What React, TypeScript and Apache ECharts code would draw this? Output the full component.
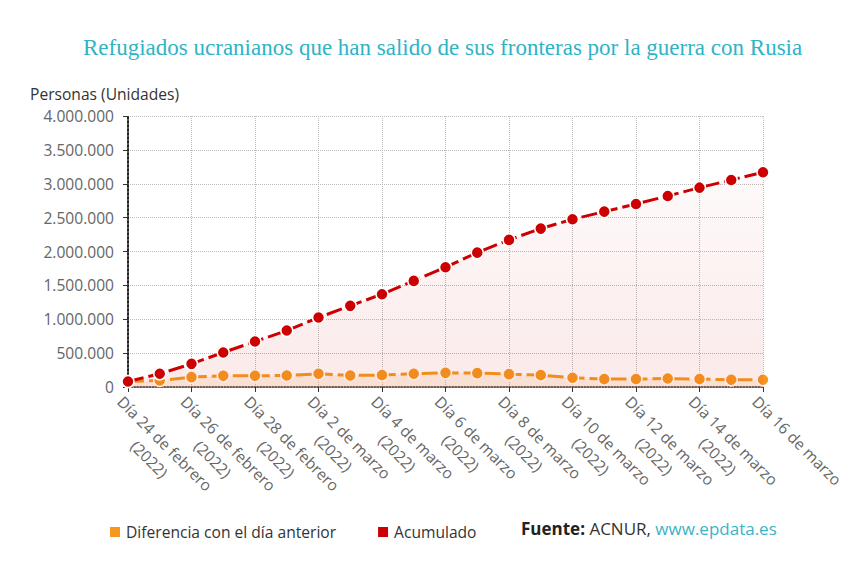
import React, { useEffect, useRef } from "react";
import * as echarts from "echarts";

const categories = [
  "Día 24 de febrero\n(2022)", "Día 25 de febrero\n(2022)", "Día 26 de febrero\n(2022)",
  "Día 27 de febrero\n(2022)", "Día 28 de febrero\n(2022)", "Día 1 de marzo\n(2022)",
  "Día 2 de marzo\n(2022)", "Día 3 de marzo\n(2022)", "Día 4 de marzo\n(2022)",
  "Día 5 de marzo\n(2022)", "Día 6 de marzo\n(2022)", "Día 7 de marzo\n(2022)",
  "Día 8 de marzo\n(2022)", "Día 9 de marzo\n(2022)", "Día 10 de marzo\n(2022)",
  "Día 11 de marzo\n(2022)", "Día 12 de marzo\n(2022)", "Día 13 de marzo\n(2022)",
  "Día 14 de marzo\n(2022)", "Día 15 de marzo\n(2022)", "Día 16 de marzo",
];

const diferencia = [
  81000, 96000, 146000, 165000, 165000, 170000, 195000, 170000, 176000, 195000, 209000,
  205000, 190000, 176000, 136000, 117000, 117000, 125000, 117000, 106000, 106000,
];

const acumulado = [
  81000, 195000, 342000, 509000, 671000, 833000, 1025000, 1198000, 1370000, 1566000, 1768000,
  1984000, 2171000, 2338000, 2476000, 2588000, 2702000, 2820000, 2942000, 3056000, 3170000,
];

const yTicks = { min: 0, max: 4000000, interval: 500000 };

const TITLE = "Refugiados ucranianos que han salido de sus fronteras por la guerra con Rusia";
const FONT = "'Open Sans', sans-serif";
const FS = 15.6;

function fmt(v: number): string {
  return String(Math.round(v)).replace(/\B(?=(\d{3})+(?!\d))/g, ".");
}

export default function App() {
  const ref = useRef<HTMLDivElement>(null);
  useEffect(() => {
    document.body.style.margin = "0";
    if (!ref.current) return;
    const chart = echarts.init(ref.current, null, { renderer: "svg" });
    chart.setOption({
      animation: false,
      backgroundColor: "#ffffff",
      title: {
        text: TITLE,
        left: 78,
        top: 31,
        textStyle: {
          fontFamily: "'Liberation Serif', 'Times New Roman', serif",
          fontSize: 23,
          fontWeight: "normal",
          color: "#2fb3c6",
        },
      },
      grid: { left: 128, right: 102, top: 116, bottom: 188 },
      legend: {
        left: 108,
        top: 524,
        padding: 0,
        itemWidth: 12,
        itemHeight: 12,
        itemGap: 40,
        icon: "rect",
        data: ["Diferencia con el día anterior", "Acumulado"],
        textStyle: { fontFamily: FONT, fontSize: FS, color: "#333" },
      },
      graphic: [
        {
          type: "text",
          left: 30,
          top: 86,
          style: { text: "Personas (Unidades)", fontFamily: FONT, fontSize: FS, fill: "#333" },
        },
        {
          type: "text",
          left: 521,
          top: 520,
          style: {
            text: "{b|Fuente:} {n|ACNUR,} {l|www.epdata.es}",
            rich: {
              b: { fontFamily: FONT, fontSize: 17, fontWeight: "bold", fill: "#222" },
              n: { fontFamily: FONT, fontSize: 17, fill: "#333" },
              l: { fontFamily: FONT, fontSize: 17, fill: "#3ab3c6" },
            },
            fontFamily: FONT,
            fontSize: 17,
          },
        },
      ],
      xAxis: {
        type: "category",
        data: categories,
        boundaryGap: false,
        axisLine: { show: true, lineStyle: { color: "#333", type: "dotted", width: 1.5 } },
        axisTick: { show: true, length: 5, interval: 1, lineStyle: { color: "#333" } },
        splitLine: { show: true, interval: 1, lineStyle: { color: "#bbb", type: "dotted" } },
        axisLabel: {
          interval: 1,
          rotate: -45,
          margin: 4,
          verticalAlign: "top",
          color: "#666",
          fontFamily: FONT,
          fontSize: FS,
          lineHeight: 22,
          formatter: (v: string) =>
            v.split("\n").map((s) => "{a|" + s + "}").join("\n"),
          rich: {
            a: { align: "center", fontFamily: FONT, fontSize: FS, color: "#666", lineHeight: 22 },
          },
        },
      },
      yAxis: {
        type: "value",
        min: yTicks.min,
        max: yTicks.max,
        interval: yTicks.interval,
        axisLine: { show: true, lineStyle: { color: "#222", type: "dotted", width: 2 } },
        axisTick: { show: true, length: 5, lineStyle: { color: "#333" } },
        splitLine: { show: true, lineStyle: { color: "#bbb", type: "dotted" } },
        axisLabel: {
          margin: 14,
          color: "#666",
          fontFamily: FONT,
          fontSize: FS,
          formatter: (v: number) => fmt(v),
        },
      },
      series: [
        {
          name: "Diferencia con el día anterior",
          type: "line",
          data: diferencia,
          z: 2,
          symbol: "circle",
          symbolSize: 12,
          color: "#f6981e",
          lineStyle: { color: "#f6981e", width: 3, type: [16, 5] },
          itemStyle: { color: "#f6981e", borderColor: "#fff", borderWidth: 1.5 },
          areaStyle: { color: "rgba(246,152,30,0.15)" },
        },
        {
          name: "Acumulado",
          type: "line",
          data: acumulado,
          z: 3,
          symbol: "circle",
          symbolSize: 12,
          color: "#cc0000",
          lineStyle: { color: "#cc0000", width: 3, type: [16, 5] },
          itemStyle: { color: "#cc0000", borderColor: "#fff", borderWidth: 1.5 },
          areaStyle: {
            color: new echarts.graphic.LinearGradient(0, 0, 0, 1, [
              { offset: 0, color: "rgba(204,0,0,0.03)" },
              { offset: 1, color: "rgba(204,0,0,0.12)" },
            ]),
          },
        },
      ],
    });
    return () => chart.dispose();
  }, []);
  return <div ref={ref} style={{ width: 865, height: 575 }} />;
}
